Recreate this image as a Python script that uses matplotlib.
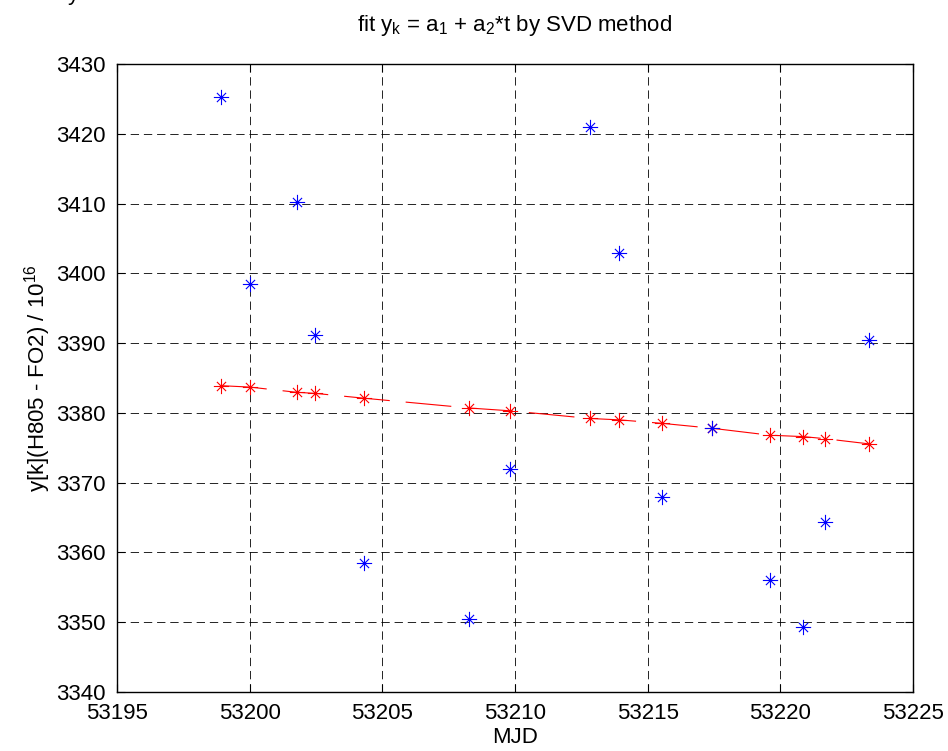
import matplotlib
matplotlib.use("Agg")
import matplotlib.pyplot as plt
from matplotlib.path import Path

plt.rcParams["font.family"] = ["Liberation Sans", "DejaVu Sans"]
plt.rcParams["mathtext.fontset"] = "custom"
plt.rcParams["mathtext.rm"] = "Liberation Sans"
plt.rcParams["mathtext.it"] = "Liberation Sans"
plt.rcParams["lines.scale_dashes"] = False

# 观测数据 (MJD, y)
mjd = [53198.92, 53200.00, 53201.77, 53202.46, 53204.32, 53208.27, 53209.81,
       53212.83, 53213.93, 53215.55, 53217.42, 53219.61, 53220.87, 53221.69,
       53223.36]
y_obs = [3425.2, 3398.4, 3410.2, 3391.1, 3358.5, 3350.4, 3371.9,
         3421.0, 3402.9, 3368.0, 3377.8, 3356.1, 3349.3, 3364.3,
         3390.5]
# SVD 拟合值
y_fit = [3383.9, 3383.7, 3382.95, 3382.8, 3382.1, 3380.7, 3380.3,
         3379.2, 3379.0, 3378.5, 3377.8, 3376.8, 3376.6, 3376.3,
         3375.55]

xticks = [53195, 53200, 53205, 53210, 53215, 53220, 53225]
yticks = [3340, 3350, 3360, 3370, 3380, 3390, 3400, 3410, 3420, 3430]

# MATLAB 风格的 '*' 标记
d = 0.6
star = Path([(-1, 0), (1, 0), (0, -1), (0, 1), (-d, -d), (d, d), (-d, d), (d, -d)],
            [Path.MOVETO, Path.LINETO] * 4)

fig = plt.figure(figsize=(9.48, 7.51), dpi=100)
ax = fig.add_axes([117 / 948, 1 - 692 / 751, 796 / 948, 628 / 751])

ax.plot(mjd, y_fit, color="#ff0000", linewidth=0.8, dashes=(33, 11.5),
        marker=star, markersize=11, markeredgecolor="#ff0000",
        markerfacecolor="none", markeredgewidth=0.8)
ax.plot(mjd, y_obs, linestyle="none", marker=star, markersize=11,
        markeredgecolor="#0000ff", markerfacecolor="none", markeredgewidth=0.8)

ax.set_xlim(53195, 53225)
ax.set_ylim(3340, 3430)
ax.set_xticks(xticks)
ax.set_yticks(yticks)
ax.xaxis.set_major_formatter(matplotlib.ticker.FormatStrFormatter("%d"))
ax.yaxis.set_major_formatter(matplotlib.ticker.FormatStrFormatter("%d"))
ax.grid(True, color="black", linewidth=0.6, dashes=(6, 3.5))
ax.tick_params(direction="in", length=6, width=0.8, labelsize=16, pad=8,
               top=True, right=True)
for s in ax.spines.values():
    s.set_linewidth(1.0)

ax.set_title(r"fit $\mathregular{y_k}$ = $\mathregular{a_1}$ + $\mathregular{a_2}$*t by SVD method",
             fontsize=16, pad=24)
ax.set_xlabel("MJD", fontsize=16, labelpad=2)
ax.set_ylabel(r"y[k](H805 - FO2) / $\mathregular{10^{16}}$", fontsize=16, labelpad=2)

fig.text(0.072, 1.0, "y", fontsize=16, va="baseline")

fig.savefig("out.png", dpi=100)
